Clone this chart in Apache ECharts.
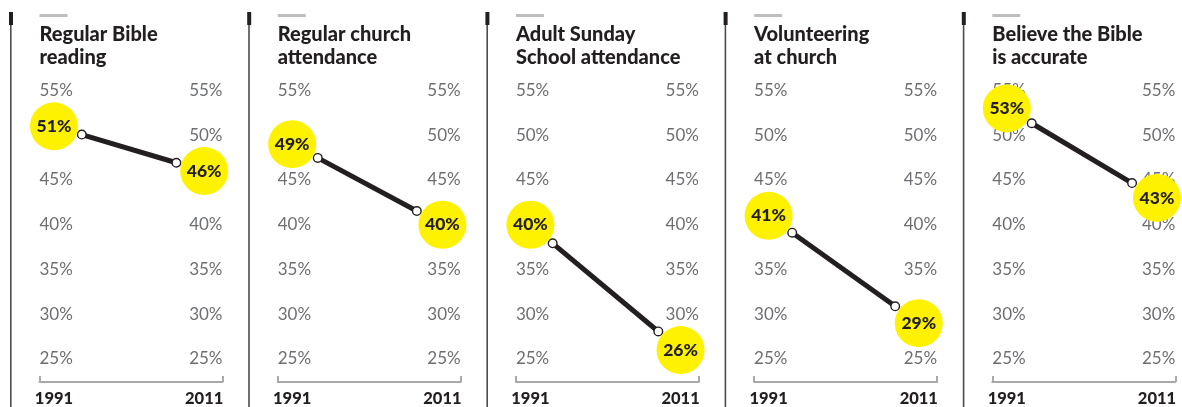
<!DOCTYPE html>
<html>
<head>
<meta charset="utf-8">
<script src="https://cdn.jsdelivr.net/npm/echarts@6/dist/echarts.min.js"></script>
<style>
  html, body { margin: 0; padding: 0; background: #fff; }
  #chart { width: 1182px; height: 407px; }
</style>
</head>
<body>
<div id="chart"></div>
<script>
// Survey measures, 1991 vs 2011
const titles = [
  'Regular Bible\nreading',
  'Regular church\nattendance',
  'Adult Sunday\nSchool attendance',
  'Volunteering\nat church',
  'Believe the Bible\nis accurate'
];
const years = [1991, 2011];
const values1991 = [51, 49, 40, 41, 53];
const values2011 = [46, 40, 26, 29, 43];
const yMin = 25, yMax = 55, yStep = 5;

const INK = '#231f20';
const GREY_TEXT = '#6d6e71';
const YELLOW = '#fff200';
const FONT = 'Lato, "Noto Sans", sans-serif';

const panelLeft0 = 39.5, panelStep = 238.2, gridW = 183;
const gridTop = 90.5, gridH = 270.5;
const xMin = 1989.07, xMax = 2013.44;
const bubble = 48;

const chart = echarts.init(document.getElementById('chart'), null, { renderer: 'canvas' });

const grid = [], xAxis = [], yAxis = [], series = [], title = [], graphic = [];

titles.forEach((t, i) => {
  const L = panelLeft0 + i * panelStep;
  grid.push({ left: L, top: gridTop, width: gridW, height: gridH });

  title.push({
    text: t, left: L, top: 23.5, padding: 0,
    textStyle: { fontFamily: FONT, fontSize: 20, fontWeight: 900, color: INK, lineHeight: 22.6 }
  });

  // panel divider with heavy cap, and short grey rule above the heading
  graphic.push(
    { type: 'rect', shape: { x: L - 29.5, y: 12, width: 1.6, height: 395 }, style: { fill: '#4d4d4f' } },
    { type: 'rect', shape: { x: L - 30.5, y: 12, width: 4, height: 13 }, style: { fill: INK } },
    { type: 'rect', shape: { x: L, y: 14, width: 28, height: 3 }, style: { fill: '#bcbec0' } }
  );

  xAxis.push({
    gridIndex: i, type: 'value', min: xMin, max: xMax, offset: 23,
    splitLine: { show: false },
    axisLine: { show: true, lineStyle: { color: '#a7a9ac', width: 2 } },
    axisTick: { show: true, inside: true, length: 6, customValues: [xMin, xMax],
      lineStyle: { color: '#a7a9ac', width: 2 } },
    axisLabel: { customValues: years, margin: 8, fontFamily: FONT, fontSize: 16.5,
      fontWeight: 900, color: INK, formatter: v => String(v) }
  });

  const yCommon = {
    gridIndex: i, type: 'value', min: yMin, max: yMax, interval: yStep,
    splitLine: { show: false }, axisLine: { show: false }, axisTick: { show: false }
  };
  yAxis.push(Object.assign({}, yCommon, {
    position: 'left',
    axisLabel: { inside: true, margin: 0, formatter: '{value}%', fontFamily: FONT,
      fontSize: 17, color: GREY_TEXT }
  }));
  yAxis.push(Object.assign({}, yCommon, {
    position: 'right',
    axisLabel: { inside: true, margin: 0, formatter: '{value}%', fontFamily: FONT,
      fontSize: 17, color: GREY_TEXT }
  }));

  // connector between the two years, trimmed back from each bubble
  series.push({
    type: 'custom', xAxisIndex: i, yAxisIndex: 2 * i, z: 3, silent: true,
    data: [[values1991[i], values2011[i]]],
    renderItem: (params, api) => {
      const a = api.coord([years[0], api.value(0)]);
      const b = api.coord([years[1], api.value(1)]);
      const dx = b[0] - a[0], dy = b[1] - a[1];
      const len = Math.sqrt(dx * dx + dy * dy);
      const gap = 29;
      const p = [a[0] + dx / len * gap, a[1] + dy / len * gap];
      const q = [b[0] - dx / len * gap, b[1] - dy / len * gap];
      return {
        type: 'group',
        children: [
          { type: 'line', shape: { x1: p[0], y1: p[1], x2: q[0], y2: q[1] },
            style: { stroke: INK, lineWidth: 5 } },
          { type: 'circle', shape: { cx: p[0], cy: p[1], r: 4.3 },
            style: { fill: '#fff', stroke: INK, lineWidth: 1.4 } },
          { type: 'circle', shape: { cx: q[0], cy: q[1], r: 4.3 },
            style: { fill: '#fff', stroke: INK, lineWidth: 1.4 } }
        ]
      };
    }
  });

  // yellow value bubbles
  series.push({
    type: 'scatter', xAxisIndex: i, yAxisIndex: 2 * i, z: 4, silent: true,
    symbolSize: bubble,
    itemStyle: { color: YELLOW, opacity: 1 },
    label: { show: true, position: 'inside', formatter: p => p.value[1] + '%',
      fontFamily: FONT, fontSize: 17.5, fontWeight: 900, color: INK },
    data: [[years[0], values1991[i]], [years[1], values2011[i]]]
  });
});

chart.setOption({
  animation: false,
  backgroundColor: '#fff',
  title, grid, xAxis, yAxis, series, graphic
});
</script>
</body>
</html>
